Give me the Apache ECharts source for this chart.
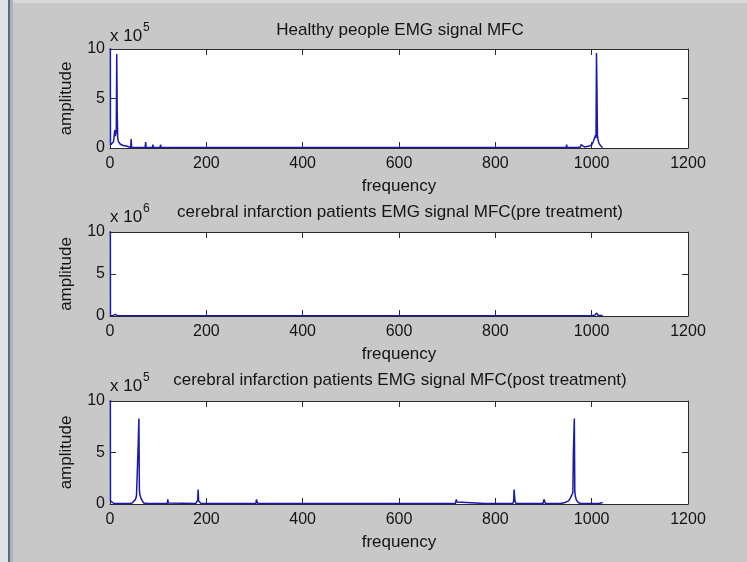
<!DOCTYPE html>
<html lang="en">
<head>
    <meta charset="UTF-8">
    <title>EMG signal MFC</title>
    <script src="https://cdn.jsdelivr.net/npm/echarts@6/dist/echarts.min.js"></script>
    <style>
        html, body { margin: 0; padding: 0; background: #c8c8c8; }
        #main { width: 747px; height: 562px; }
    </style>
</head>
<body>
<div id="main"></div>
<script>
    // subplot titles and the power of ten on each amplitude axis
    var titles = [
        'Healthy people EMG signal MFC',
        'cerebral infarction patients EMG signal MFC(pre treatment)',
        'cerebral infarction patients EMG signal MFC(post treatment)'
    ];
    var exponents = ['5', '6', '5'];

    // [frequency, amplitude] ; amplitude in units of 10^5
    var healthy = [
        [0, 40], [1, 0.3], [3, 0.2], [5, 0.3], [7, 0.6], [8, 0.9], [9, 1.4], [10, 1.8], [11, 1.2], [12, 1.0],
        [13, 1.6], [14, 9.5], [15, 3.5], [16, 1.1], [17, 0.7], [19, 0.5], [21, 0.4], [23, 0.35], [25, 0.3],
        [27, 0.25], [30, 0.3], [34, 0.2], [38, 0.1], [43, 0.05], [44, 0.9], [45, 0.05], [73, 0.05], [74, 0.6],
        [75, 0.05], [88, 0.05], [89, 0.35], [90, 0.05], [104, 0.05], [105, 0.35], [106, 0.05],
        [915, 0.05], [916, 0.2], [917, 0.05], [931, 0.05], [932, 0.2], [933, 0.05], [947, 0.05], [948, 0.35],
        [949, 0.05], [970, 0.05], [977, 0.1], [978, 0.35], [979, 0.15], [985, 0.1], [995, 0.2], [1000, 0.3],
        [1003, 0.6], [1005, 0.5], [1007, 0.8], [1008, 1.3], [1009, 1.0], [1010, 9.6], [1011, 5.9], [1012, 1.3],
        [1013, 0.9], [1015, 0.5], [1017, 0.3], [1019, 0.2], [1021, 0.4], [1022, 0.15], [1023, 0.05]
    ];
    // amplitude in units of 10^6
    var preTreatment = [
        [0, 40], [1, 0.05], [6, 0.04], [9, 0.1], [11, 0.2], [12, 0.35], [13, 0.12], [16, 0.04],
        [1000, 0.04], [1007, 0.1], [1010, 0.35], [1011, 0.15], [1014, 0.06], [1018, 0.04], [1023, 0.05]
    ];
    // amplitude in units of 10^5
    var postTreatment = [
        [0, 40], [1, 0.3], [3, 0.15], [8, 0.05], [40, 0.05], [46, 0.1], [50, 0.2], [53, 0.45], [55, 0.8],
        [57, 0.95], [58, 5.0], [60, 8.3], [61, 1.4], [62, 0.9], [64, 0.6], [67, 0.3], [70, 0.1], [77, 0.05],
        [78, 0.15], [79, 0.05], [119, 0.05], [120, 0.45], [121, 0.1], [123, 0.05], [178, 0.05], [181, 0.2],
        [182, 0.35], [183, 1.4], [184, 0.3], [186, 0.15], [189, 0.05], [243, 0.05], [244, 0.2], [245, 0.05],
        [303, 0.05], [304, 0.45], [305, 0.25], [307, 0.05], [365, 0.05], [366, 0.15], [367, 0.05],
        [717, 0.05], [719, 0.45], [720, 0.2], [722, 0.05], [779, 0.05], [780, 0.15], [781, 0.05],
        [836, 0.05], [838, 0.25], [839, 1.4], [840, 0.7], [841, 0.25], [843, 0.05], [899, 0.05], [901, 0.45],
        [902, 0.3], [904, 0.05], [918, 0.05], [919, 0.15], [920, 0.05], [935, 0.05], [945, 0.15], [952, 0.3],
        [956, 0.6], [959, 0.9], [961, 1.1], [962, 5.0], [964, 8.3], [965, 1.3], [966, 0.8], [968, 0.4],
        [972, 0.15], [977, 0.05], [979, 0.2], [980, 0.05], [999, 0.05], [1000, 0.2], [1001, 0.05],
        [1015, 0.05], [1019, 0.1], [1023, 0.15]
    ];
    var seriesData = [healthy, preTreatment, postTreatment];

    var freqMax = 1200, freqStep = 200;
    var ampMax = 10, ampStep = 5;

    var myChart = echarts.init(document.getElementById('main'));
    var font = '"Liberation Sans", Arial, sans-serif';
    var ink = '#141414';
    var axisColor = '#2a2a2a';
    var lineColor = '#1a1aa8';

    // plot boxes (top, height) of the three subplots
    var boxes = [
        {top: 49, height: 99, titleY: 30, expY: 36, supY: 28},
        {top: 232, height: 84, titleY: 212, expY: 217, supY: 209},
        {top: 401, height: 103, titleY: 380, expY: 386, supY: 378}
    ];

    var grid = [], xAxis = [], yAxis = [], series = [];
    var graphic = [
        {type: 'rect', z: -1, shape: {x: 0, y: 0, width: 8, height: 562}, style: {fill: '#dde3e9'}},
        {type: 'rect', z: -1, shape: {x: 8, y: 0, width: 2, height: 562}, style: {fill: '#5d6b78'}},
        {type: 'rect', z: -1, shape: {x: 10, y: 0, width: 3, height: 562}, style: {fill: '#aab3bc'}},
        {type: 'rect', z: -1, shape: {x: 13, y: 0, width: 734, height: 3}, style: {fill: '#dadada'}}
    ];

    function frame(gi, pos, isX) {
        var a = {
            gridIndex: gi,
            type: 'value',
            position: pos,
            min: 0,
            max: isX ? freqMax : ampMax,
            interval: isX ? freqStep : ampStep,
            axisLine: {show: true, onZero: false, lineStyle: {color: axisColor, width: 1}},
            axisTick: {show: true, inside: true, length: 6, lineStyle: {color: axisColor}},
            axisLabel: {show: false},
            splitLine: {show: false}
        };
        return a;
    }

    function plain(v) {
        return String(v);
    }

    for (var i = 0; i < 3; i++) {
        var b = boxes[i];
        grid.push({left: 110, top: b.top, width: 578, height: b.height, backgroundColor: '#ffffff', show: true, borderWidth: 0});

        var xb = frame(i, 'bottom', true);
        xb.name = 'frequency';
        xb.nameLocation = 'middle';
        xb.nameGap = 30;
        xb.nameTextStyle = {fontSize: 17, color: ink, fontFamily: font};
        xb.axisLabel = {show: true, fontSize: 16, color: ink, fontFamily: font, margin: 8, formatter: plain};
        xAxis.push(xb);
        xAxis.push(frame(i, 'top', true));

        var yl = frame(i, 'left', false);
        yl.name = 'amplitude';
        yl.nameLocation = 'middle';
        yl.nameGap = 35;
        yl.nameTextStyle = {fontSize: 17, color: ink, fontFamily: font};
        yl.axisLabel = {show: true, fontSize: 16, color: ink, fontFamily: font, margin: 5, formatter: plain};
        yAxis.push(yl);
        yAxis.push(frame(i, 'right', false));

        series.push({
            type: 'line',
            xAxisIndex: i * 2,
            yAxisIndex: i * 2,
            data: seriesData[i],
            showSymbol: false,
            symbol: 'none',
            clip: true,
            lineStyle: {color: lineColor, width: 1.5},
            animation: false
        });

        graphic.push({
            type: 'text', x: 400, y: b.titleY,
            style: {text: titles[i], font: '17px ' + font, fill: ink,
                align: 'center', verticalAlign: 'middle', textAlign: 'center', textVerticalAlign: 'middle'}
        });
        graphic.push({
            type: 'text', x: 110, y: b.expY,
            style: {text: 'x 10', font: '17px ' + font, fill: ink,
                align: 'left', verticalAlign: 'middle', textAlign: 'left', textVerticalAlign: 'middle'}
        });
        graphic.push({
            type: 'text', x: 143, y: b.supY,
            style: {text: exponents[i], font: '12px ' + font, fill: ink,
                align: 'left', verticalAlign: 'middle', textAlign: 'left', textVerticalAlign: 'middle'}
        });
    }

    var option = {
        backgroundColor: '#c8c8c8',
        animation: false,
        grid: grid,
        xAxis: xAxis,
        yAxis: yAxis,
        series: series,
        graphic: graphic
    };
    myChart.setOption(option);
</script>
</body>
</html>
